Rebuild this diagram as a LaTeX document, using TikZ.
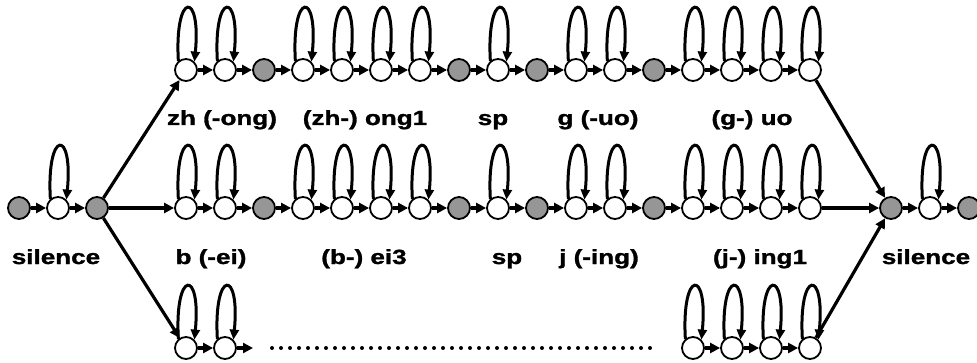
\documentclass[tikz,border=0pt]{standalone}
\usepackage{fontspec}
\setmainfont{Liberation Sans}
\newfontfamily\labelfont{Liberation Sans Bold}[FakeBold=1.2]
\usepackage{graphicx}
\usetikzlibrary{arrows.meta}
\definecolor{stategray}{RGB}{150,150,150}
\tikzset{
  wstate/.style={circle, draw, line width=1.8pt, fill=white, minimum size=22pt, inner sep=0pt},
  gstate/.style={wstate, fill=stategray},
  trans/.style={line width=3.2pt, -{Triangle[length=10pt,width=10pt]}},
  selfloop/.style={line width=3pt, -{Triangle[length=10pt,width=9pt]}},
  lbl/.style={font=\fontsize{20.5}{24}\selectfont\labelfont, anchor=base, inner sep=0pt},
  dotrun/.style={line width=4pt, line cap=round, dash pattern=on 0pt off 9pt}
}
\newcommand\widetext[1]{\scalebox{1.27}[1]{#1}}
\newcommand\selfloopon[1]{\draw[selfloop] (#1.130) .. controls +(-4,70) and +(7,71) .. (#1.45);}
\begin{document}
\begin{tikzpicture}[x=1pt,y=1pt]
\clip (0,0) rectangle (977,362);

% leading silence model
\node[gstate] (s1) at (19,154) {};
\node[wstate] (s2) at (58,154) {};
\node[gstate] (s3) at (97,154) {};

% trailing silence model
\node[gstate] (r1) at (891,154) {};
\node[wstate] (r2) at (930,154) {};
\node[gstate] (r3) at (969,154) {};

% two full word rows: top (t) and middle (m)
\foreach \row/\y in {t/292, m/154}{
  \foreach \i/\kind in {1/wstate,2/wstate,3/gstate,4/wstate,5/wstate,6/wstate,7/wstate,8/gstate,9/wstate,10/gstate,11/wstate,12/wstate,13/gstate,14/wstate,15/wstate,16/wstate,17/wstate}
    {\node[\kind] (\row\i) at ({186+39*(\i-1)},\y) {};}
  \foreach \i [evaluate=\i as \j using int(\i+1)] in {1,...,16}
    {\draw[trans] (\row\i) -- (\row\j);}
  \foreach \i in {1,2,4,5,6,7,9,11,12,14,15,16,17}
    {\selfloopon{\row\i}}
}

% bottom, partially shown row
\foreach \i in {1,2,14,15,16,17}
  {\node[wstate] (b\i) at ({186+39*(\i-1)},14) {};}
\coordinate (bstub) at (253,14);
\coordinate (dotA) at (272,14);
\coordinate (dotB) at (655,14);
\draw[trans] (b1) -- (b2);
\draw[trans] (b2) -- (bstub);
\draw[dotrun] (dotA) -- (dotB);
\draw[trans] (b14) -- (b15);
\draw[trans] (b15) -- (b16);
\draw[trans] (b16) -- (b17);
\foreach \n in {b1,b2,b14,b15,b16,b17}
  {\selfloopon{\n}}

% silence models
\draw[trans] (s1) -- (s2);
\draw[trans] (s2) -- (s3);
\draw[trans] (r1) -- (r2);
\draw[trans] (r2) -- (r3);
\selfloopon{s2}
\selfloopon{r2}

% branching into and out of the word rows
\draw[trans] (s3) -- (t1);
\draw[trans] (s3) -- (m1);
\draw[trans] (s3) -- (b1);
\draw[trans] (t17) -- (r1);
\draw[trans] (m17) -- (r1);
\draw[trans] (b17) -- (r1);

% unit labels
\node[lbl] (lt1) at (222,237) {\widetext{zh (-ong)}};
\node[lbl] (lt2) at (365,237) {\widetext{(zh-) ong1}};
\node[lbl] (lt3) at (493,237) {\widetext{sp}};
\node[lbl] (lt4) at (598,237) {\widetext{g (-uo)}};
\node[lbl] (lt5) at (752,237) {\widetext{(g-) uo}};

\node[lbl] (lm0) at (56,98) {\widetext{silence}};
\node[lbl] (lm1) at (211,98) {\widetext{b (-ei)}};
\node[lbl] (lm2) at (364,98) {\widetext{(b-) ei3}};
\node[lbl] (lm3) at (507,98) {\widetext{sp}};
\node[lbl] (lm4) at (599,98) {\widetext{j (-ing)}};
\node[lbl] (lm5) at (760,98) {\widetext{(j-) ing1}};
\node[lbl] (lm6) at (926,98) {\widetext{silence}};
\end{tikzpicture}
\end{document}
